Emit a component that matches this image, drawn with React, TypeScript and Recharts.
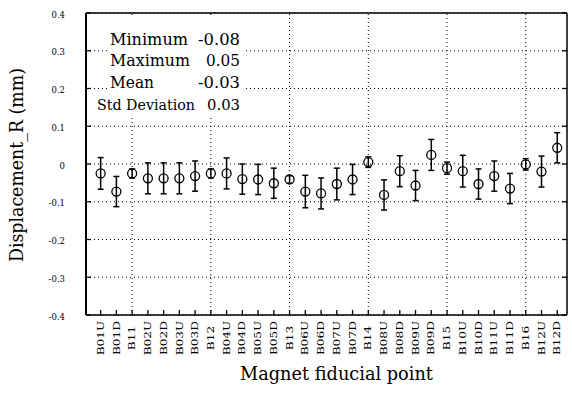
import React from 'react';
import { ScatterChart, Scatter, XAxis, YAxis, CartesianGrid, ReferenceLine, ErrorBar } from 'recharts';

const FONT = 'DejaVu Serif';

const categories = [
  'B01U', 'B01D', 'B11', 'B02U', 'B02D', 'B03U', 'B03D', 'B12', 'B04U', 'B04D',
  'B05U', 'B05D', 'B13', 'B06U', 'B06D', 'B07U', 'B07D', 'B14', 'B08U', 'B08D',
  'B09U', 'B09D', 'B15', 'B10U', 'B10D', 'B11U', 'B11D', 'B16', 'B12U', 'B12D',
];

const displacement = [
  -0.025, -0.073, -0.025, -0.038, -0.038, -0.038, -0.032, -0.025, -0.025, -0.04,
  -0.041, -0.051, -0.041, -0.073, -0.078, -0.053, -0.041, 0.005, -0.082, -0.019,
  -0.057, 0.024, -0.011, -0.019, -0.053, -0.032, -0.065, -0.001, -0.02, 0.043,
];

const uncertainty = [
  0.042, 0.04, 0.012, 0.041, 0.041, 0.041, 0.04, 0.012, 0.041, 0.04,
  0.04, 0.04, 0.01, 0.043, 0.041, 0.042, 0.04, 0.014, 0.04, 0.041,
  0.04, 0.041, 0.016, 0.042, 0.04, 0.04, 0.04, 0.015, 0.041, 0.04,
];

const yTicks = [0.4, 0.3, 0.2, 0.1, 0, -0.1, -0.2, -0.3, -0.4];
const groupPoints = ['B11', 'B12', 'B13', 'B14', 'B15', 'B16'];

const statLabels = ['Minimum', 'Maximum', 'Mean', 'Std Deviation'];
const statValues = ['-0.08', '0.05', '-0.03', '0.03'];

const xTicks = categories.map((_, i) => i);
const data = categories.map((c, i) => ({ idx: i, name: c, value: displacement[i], err: uncertainty[i] }));

const fmtY = (v: number) => (v === 0 ? '0' : v.toFixed(1));

const BottomTick = (props: any) => {
  const { x, y, payload } = props;
  return (
    <g>
      <line x1={x} y1={y} x2={x} y2={y - 5} stroke="#000" strokeWidth={1.3} />
      <text
        transform={`translate(${x},${y + 23}) rotate(-90) scale(1.22,1)`}
        textAnchor="middle"
        dominantBaseline="central"
        fontSize={10}
        fontFamily={FONT}
        fill="#000"
      >
        {categories[payload.value]}
      </text>
    </g>
  );
};

const TopTick = (props: any) => {
  const { x, y } = props;
  return <line x1={x} y1={y} x2={x} y2={y + 5} stroke="#000" strokeWidth={1.3} />;
};

const LeftTick = (props: any) => {
  const { x, y, payload } = props;
  return (
    <g>
      <line x1={x} y1={y} x2={x + 5} y2={y} stroke="#000" strokeWidth={1.3} />
      <text x={x - 21} y={y + 1.5} textAnchor="end" dominantBaseline="central" fontSize={8.5} fontFamily={FONT} fill="#000">
        {fmtY(payload.value)}
      </text>
    </g>
  );
};

const RightTick = (props: any) => {
  const { x, y } = props;
  return <line x1={x} y1={y} x2={x - 5} y2={y} stroke="#000" strokeWidth={1.3} />;
};

const Marker = (props: any) => {
  const { cx, cy } = props;
  return <circle cx={cx} cy={cy} r={4.5} fill="none" stroke="#000" strokeWidth={1.3} />;
};

export default function App() {
  const statBaselines = [45, 66, 88, 110];
  const labelX = [110, 110, 110, 97];
  const labelLen = [78, 80, 44, 98];
  const labelSize = [17, 17, 17, 15];
  const valueLen = [42, 34, 42, 33];
  return (
    <div style={{ position: 'absolute', left: 0, top: 0, width: 572, height: 393, background: '#fff' }}>
      <ScatterChart width={572} height={393} margin={{ top: 12, right: 0, bottom: 0, left: 0 }}>
        <CartesianGrid vertical={false} stroke="#000" strokeDasharray="1 3" strokeWidth={1} />
        <XAxis
          dataKey="idx"
          type="number"
          domain={[-0.93, 29.62]}
          ticks={xTicks}
          interval={0}
          height={78}
          tickSize={0}
          tickMargin={0}
          tickLine={false}
          tick={<BottomTick />}
          axisLine={{ stroke: '#000', strokeWidth: 1.5 }}
          allowDataOverflow
        />
        <XAxis
          xAxisId="top"
          orientation="top"
          type="number"
          domain={[-0.93, 29.62]}
          ticks={xTicks}
          interval={0}
          height={1}
          tickSize={0}
          tickMargin={0}
          tickLine={false}
          tick={<TopTick />}
          axisLine={{ stroke: '#000', strokeWidth: 1.5 }}
          allowDataOverflow
        />
        <YAxis
          dataKey="value"
          type="number"
          domain={[-0.4, 0.4]}
          ticks={yTicks}
          interval={0}
          width={86}
          tickSize={0}
          tickMargin={0}
          tickLine={false}
          tick={<LeftTick />}
          axisLine={{ stroke: '#000', strokeWidth: 2 }}
          allowDataOverflow
        />
        <YAxis
          yAxisId="right"
          orientation="right"
          type="number"
          domain={[-0.4, 0.4]}
          ticks={yTicks}
          interval={0}
          width={5}
          tickSize={0}
          tickMargin={0}
          tickLine={false}
          tick={<RightTick />}
          axisLine={{ stroke: '#000', strokeWidth: 1.5 }}
          allowDataOverflow
        />
        {groupPoints.map((g) => (
          <ReferenceLine key={g} x={categories.indexOf(g)} stroke="#000" strokeDasharray="1 3" strokeWidth={1} />
        ))}
        <Scatter data={data} dataKey="value" shape={<Marker />} isAnimationActive={false}>
          <ErrorBar dataKey="err" direction="y" width={3} stroke="#000" strokeWidth={1.5} />
        </Scatter>
      </ScatterChart>
      <svg width={572} height={393} style={{ position: 'absolute', left: 0, top: 0, pointerEvents: 'none' }}>
        <rect x={107} y={16} width={138} height={80} fill="#fff" />
        <rect x={95} y={94} width={150} height={24} fill="#fff" />
        {statLabels.map((l, i) => (
          <text key={l} x={labelX[i]} y={statBaselines[i]} fontSize={labelSize[i]} fontFamily={FONT} fill="#000" textLength={labelLen[i]} lengthAdjust="spacingAndGlyphs">
            {l}
          </text>
        ))}
        {statValues.map((v, i) => (
          <text key={i} x={240 - valueLen[i]} y={statBaselines[i]} fontSize={labelSize[i]} fontFamily={FONT} fill="#000" textLength={valueLen[i]} lengthAdjust="spacingAndGlyphs">
            {v}
          </text>
        ))}
        <text transform="translate(23,165) rotate(-90)" x={-97} y={0} fontSize={18} fontFamily={FONT} fill="#000" textLength={194} lengthAdjust="spacingAndGlyphs">
          Displacement_R (mm)
        </text>
        <text x={240} y={380} fontSize={18} fontFamily={FONT} fill="#000" textLength={193} lengthAdjust="spacingAndGlyphs">
          Magnet fiducial point
        </text>
      </svg>
    </div>
  );
}
